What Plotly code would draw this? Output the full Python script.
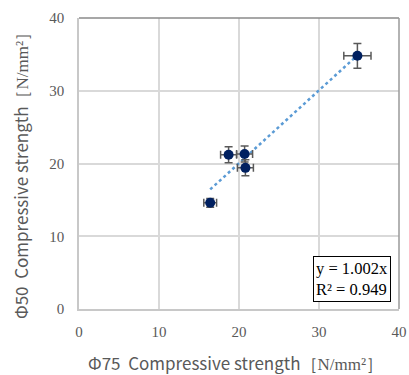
import plotly.graph_objects as go

x_vals = [16.4, 18.7, 20.7, 20.8, 34.8]
y_vals = [14.6, 21.2, 21.3, 19.4, 34.8]
x_err = [0.8, 1.0, 1.0, 1.0, 1.7]
y_err = [0.6, 1.1, 1.1, 1.1, 1.7]
slope = 1.002
r2 = 0.949
ticks = [0, 10, 20, 30, 40]

# plot-area edges in page pixels
L, R, T, B = 79, 399, 18, 309
W, H = 409, 375

fig = go.Figure()
xl = [min(x_vals), max(x_vals)]
fig.add_trace(go.Scatter(x=xl, y=[slope * v for v in xl], mode="lines",
                         line=dict(color="#5B9BD5", width=2.5, dash="dot"),
                         showlegend=False, hoverinfo="skip"))
fig.add_trace(go.Scatter(
    x=x_vals, y=y_vals, mode="markers",
    marker=dict(color="#002060", size=10),
    error_x=dict(type="data", array=x_err, color="#595959", thickness=1.5, width=4),
    error_y=dict(type="data", array=y_err, color="#595959", thickness=1.5, width=4),
    showlegend=False))

axis_common = dict(range=[0, 40], tickvals=ticks, showgrid=True, gridcolor="#d9d9d9",
                   gridwidth=2, zeroline=False, showline=True, linecolor="#c8c8c8",
                   linewidth=1.5, mirror=False, ticks="", automargin=False,
                   tickfont=dict(family="Liberation Serif", size=15, color="#595959"))
fig.update_xaxes(**axis_common, ticklabelstandoff=8)
fig.update_yaxes(**axis_common, ticklabelstandoff=10)

# darker top/right border of the plot area
fig.add_shape(type="line", xref="paper", yref="paper", x0=0, x1=1, y0=1, y1=1,
              line=dict(color="#8a8a8a", width=1.5))
fig.add_shape(type="line", xref="paper", yref="paper", x0=1, x1=1, y0=0, y1=1,
              line=dict(color="#9a9a9a", width=1.5))

def px_x(p):
    return (p - L) / (R - L)

def px_y(p):
    return (B - p) / (B - T)

fig.add_annotation(x=px_x(235), y=px_y(362), xref="paper", yref="paper",
                   text="<span style='font-family:Noto Sans CJK JP'>Φ75&nbsp;&nbsp;Compressive strength</span>"
                        "<span style='font-family:Liberation Serif'>［N/mm²］</span>",
                   showarrow=False, font=dict(size=17, color="#595959"), xanchor="center", yanchor="middle")
fig.add_annotation(x=px_x(20), y=px_y(172), xref="paper", yref="paper", textangle=-90,
                   text="<span style='font-family:Noto Sans CJK JP'>Φ50&nbsp;&nbsp;Compressive strength</span>"
                        "<span style='font-family:Liberation Serif'>［N/mm²］</span>",
                   showarrow=False, font=dict(size=17, color="#595959"), xanchor="center", yanchor="middle")
fig.add_annotation(x=px_x(391), y=px_y(302), xref="paper", yref="paper",
                   xanchor="right", yanchor="bottom",
                   text=f"y = {slope:.3f}x<br>R² = {r2:.3f}", showarrow=False, align="left",
                   font=dict(family="Liberation Serif", size=16.5, color="black"),
                   bordercolor="black", borderwidth=1, bgcolor="white", borderpad=2)

fig.update_layout(width=W, height=H, margin=dict(l=L, r=W - R, t=T, b=H - B, autoexpand=False),
                  plot_bgcolor="white", paper_bgcolor="white")
fig.write_html("out.html", config={"displayModeBar": False},
               post_script="document.body.style.margin='0';document.body.style.overflow='hidden';")
